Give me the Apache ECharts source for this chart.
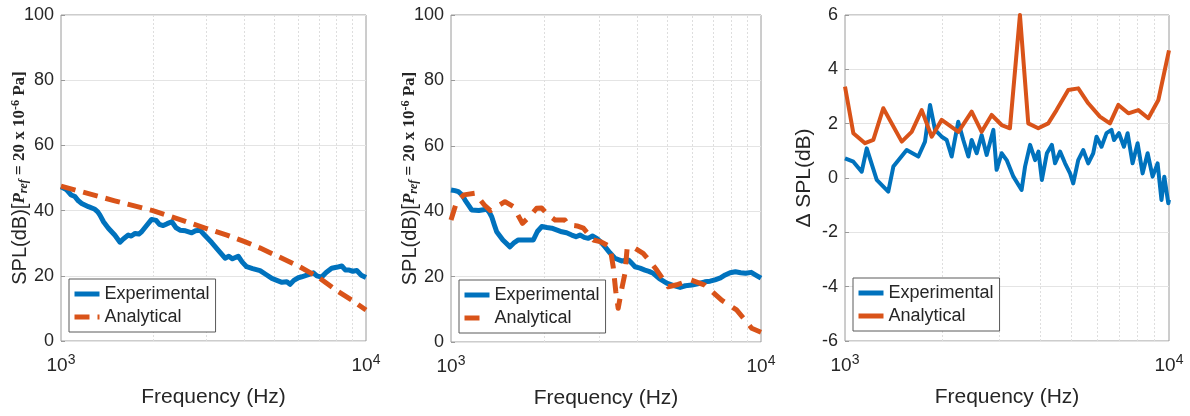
<!DOCTYPE html>
<html>
<head>
<meta charset="utf-8">
<script src="https://cdn.jsdelivr.net/npm/echarts@6/dist/echarts.min.js"></script>
<style>
html,body{margin:0;padding:0;background:#fff;}
#chart{width:1190px;height:416px;}
</style>
</head>
<body>
<div id="chart"></div>
<script>
// ---------- data ----------
const xTickLabels = ['10^3', '10^4'];
const minorFreqs = [2000, 3000, 4000, 5000, 6000, 7000, 8000, 9000];
const legendNames = ['Experimental', 'Analytical'];

// Panel 1
const freq1Exp = [1000,1040,1080,1111,1140,1169,1230,1292,1320,1342,1380,1430,1500,1561,1600,1662,1700,1750,1800,1838,1900,1982,2050,2100,2163,2230,2307,2380,2456,2560,2683,2760,2857,2950,3020,3120,3280,3451,3550,3650,3812,3930,4061,4250,4494,4700,4914,5100,5300,5500,5638,5800,6000,6157,6400,6724,6900,7148,7400,7716,8000,8330,8550,8760,9050,9330,9650,10000];
const spl1Exp = [47.3,46.5,44.8,44.3,43.0,42.2,41.2,40.4,39.6,38.6,36.5,34.6,32.5,30.3,31.3,32.5,32.2,33.0,32.8,33.5,35.2,37.3,37.0,35.8,35.4,36.0,36.6,34.8,34.0,33.8,33.2,33.8,34.0,32.6,31.6,30.2,27.8,25.4,26.0,25.2,26.0,24.2,22.8,22.2,21.6,20.4,19.2,18.6,18.0,18.2,17.4,18.6,19.4,19.7,20.2,20.9,20.0,19.6,21.0,22.3,22.6,23.0,21.8,21.8,21.4,21.6,20.2,19.5];
const freq1Ana = [1000,1500,2000,2500,3000,3500,4000,4500,5000,6000,7000,8000,9000,10000];
const spl1Ana = [47.5,43.0,40.0,37.0,34.5,32.5,30.5,28.5,26.5,23.0,19.5,15.5,12.5,9.5];

// Panel 2
const freq2Exp = [1000,1030,1056,1085,1110,1140,1166,1230,1303,1330,1353,1380,1404,1470,1550,1600,1649,1750,1843,1900,1962,2040,2113,2200,2277,2360,2451,2530,2606,2690,2773,2860,2951,3040,3140,3260,3378,3550,3732,3820,3923,4070,4223,4350,4491,4700,4964,5200,5483,5700,5985,6300,6590,6850,7106,7400,7666,7950,8270,8600,8921,9300,9650,10000];
const spl2Exp = [46.5,46.3,46.0,45.0,43.4,41.8,40.4,40.2,40.6,39.6,38.3,35.8,33.7,31.2,29.1,30.4,31.2,31.2,31.2,33.8,35.3,35.0,34.8,34.2,33.7,33.4,32.7,32.2,32.7,32.0,31.7,32.4,31.7,30.6,29.1,27.2,25.6,24.8,25.1,24.2,23.0,22.6,22.0,21.6,21.0,19.4,18.0,17.3,16.7,17.2,17.4,17.9,18.4,18.6,19.0,19.6,20.5,21.2,21.5,21.2,21.0,21.3,20.4,19.5];
const freq2Ana = [1000,1043,1100,1195,1281,1340,1404,1493,1588,1700,1800,1889,1960,2050,2166,2332,2390,2550,2673,2880,3050,3258,3336,3400,3462,3549,3640,3700,3870,4167,4400,4610,5022,5400,5918,6590,7000,7465,8340,8800,9330,10000];
const spl2Ana = [37.3,42.9,45.0,45.5,41.9,40.2,41.4,42.9,41.4,36.3,38.5,40.9,41.0,39.0,37.3,37.3,35.8,35.5,34.8,31.2,30.6,29.1,23.0,15.5,10.3,15.9,21.0,28.7,29.0,27.1,24.5,22.0,16.9,17.6,19.0,17.4,15.2,12.8,9.8,7.2,4.2,3.0];

// Panel 3
const freq3Exp = [1000,1061,1126,1167,1253,1360,1410,1550,1684,1766,1830,1896,1988,2060,2134,2236,2318,2403,2460,2550,2641,2737,2870,2937,3044,3155,3310,3508,3595,3726,3862,3954,4052,4198,4350,4450,4612,4778,4950,5063,5246,5435,5632,5835,5975,6190,6414,6645,6765,7008,7259,7450,7720,8000,8290,8590,8900,9220,9480,9670,9950,10000];
const dspl3Exp = [0.72,0.60,0.23,1.09,-0.07,-0.50,0.42,1.03,0.79,1.34,2.69,1.77,1.52,1.40,0.79,2.07,1.40,0.79,1.40,0.91,1.58,0.85,1.77,0.30,0.91,0.66,0.05,-0.44,0.42,1.22,0.66,0.97,-0.07,0.91,1.22,0.54,0.97,0.54,0.17,-0.20,0.66,1.03,0.54,0.91,1.52,1.15,1.65,1.77,1.40,1.65,1.15,1.65,0.54,1.28,0.17,0.91,0.05,0.54,-0.81,0.05,-0.93,-0.80];
const freq3Ana = [1000,1061,1153,1223,1313,1497,1606,1725,1852,1988,2239,2460,2641,2835,3044,3229,3467,3678,3949,4239,4497,4887,5248,5633,6120,6571,6978,7492,8041,8634,9272,10000];
const dspl3Ana = [3.36,1.65,1.28,1.40,2.57,1.34,1.70,2.50,1.52,2.14,1.70,2.44,1.70,2.32,1.95,1.83,6.00,2.01,1.83,2.01,2.50,3.24,3.30,2.75,2.26,2.01,2.69,2.38,2.50,2.20,2.87,4.70];

// ---------- helpers ----------
const zip = (a, b) => a.slice(0, Math.min(a.length, b.length)).map((v, i) => [v, b[i]]);
const BLUE = '#0072BD', ORANGE = '#D95319', TXT = '#262626';
const SANS = '"Liberation Sans", Arial, sans-serif';
const SERIF = '"Liberation Serif", "Times New Roman", serif';

const grids = [
  {left: 61, top: 15, width: 305, height: 326},
  {left: 451, top: 15, width: 310, height: 327},
  {left: 845, top: 15, width: 324, height: 326}
].map(g => Object.assign({show: true, borderColor: '#9a9a9a', borderWidth: 1, backgroundColor: '#fff'}, g));

function xAxisFor(i) {
  return {
    type: 'log', logBase: 10, gridIndex: i, min: 1000, max: 10000,
    name: 'Frequency (Hz)', nameLocation: 'middle', nameGap: 46, nameMoveOverlap: false,
    nameTextStyle: {fontSize: 21, color: TXT, fontFamily: SANS},
    axisLine: {show: false}, axisTick: {show: false},
    splitLine: {show: false},
    axisLabel: {
      margin: 12,
      formatter: v => {
        const e = Math.round(Math.log10(v));
        const lbl = xTickLabels.find(t => t.endsWith('^' + e)) || ('10^' + e);
        const parts = lbl.split('^');
        return '{b|' + parts[0] + '}{s|' + parts[1] + '}';
      },
      rich: {
        b: {fontSize: 19, color: TXT, fontFamily: SANS},
        s: {fontSize: 14, color: TXT, fontFamily: SANS, padding: [0, 0, 11, 0]}
      }
    }
  };
}

const splName = '{a|SPL(dB)[}{p|P}{sub|ref}{b| = 20 x 10}{sup|-6}{b| Pa]}';
const splRich = {
  a: {fontSize: 20, color: TXT, fontFamily: SANS},
  p: {fontSize: 17, color: TXT, fontFamily: SERIF, fontWeight: 'bold', fontStyle: 'italic'},
  sub: {fontSize: 12, color: TXT, fontFamily: SERIF, fontWeight: 'bold', fontStyle: 'italic', padding: [8, 0, 0, 0]},
  b: {fontSize: 17, color: TXT, fontFamily: SERIF, fontWeight: 'bold'},
  sup: {fontSize: 12, color: TXT, fontFamily: SERIF, fontWeight: 'bold', padding: [0, 0, 8, 0]}
};

function yAxisFor(i, min, max, interval, name, rich, gap) {
  return {
    type: 'value', gridIndex: i, min, max, interval,
    name, nameLocation: 'middle', nameGap: gap, nameRotate: 90, nameMoveOverlap: false,
    nameTextStyle: rich ? {rich} : {fontSize: 21, color: TXT, fontFamily: SANS},
    axisLine: {show: false},
    axisTick: {show: true, inside: true, length: 4, lineStyle: {color: '#9a9a9a'}},
    axisLabel: {fontSize: 18, color: TXT, fontFamily: SANS, margin: 7},
    splitLine: {show: true, lineStyle: {color: '#e4e4e4', width: 1}}
  };
}

function minorSeries(i) {
  return {
    type: 'line', xAxisIndex: i, yAxisIndex: i, data: [], z: 1, silent: true,
    markLine: {
      silent: true, z: 1, symbol: ['none', 'none'], label: {show: false},
      lineStyle: {color: '#dedede', type: [2, 2], width: 1},
      animation: false,
      data: minorFreqs.map(f => ({xAxis: f}))
    }
  };
}

function lineSeries(i, name, data, color, width, dash) {
  return {
    type: 'line', name, xAxisIndex: i, yAxisIndex: i, data, z: 3,
    showSymbol: false, symbol: 'none', smooth: false,
    lineStyle: {color, width, type: dash || 'solid', cap: 'butt', join: 'round'},
    itemStyle: {color},
    emphasis: {disabled: true}
  };
}

function legendFor(i, left, top, suffix) {
  return {
    orient: 'vertical', left, top, z: 10,
    data: legendNames.map(n => n + suffix),
    formatter: n => n.split('|')[0],
    itemWidth: 25, itemHeight: 14, itemGap: 3,
    padding: [5, 6, 5, 3],
    borderColor: '#5a5a5a', borderWidth: 1, backgroundColor: '#fff',
    textStyle: {fontSize: 18, color: TXT, fontFamily: SANS, lineHeight: 20},
    lineStyle: {width: 5},
    itemStyle: {color: 'rgba(0,0,0,0)', opacity: 0, borderWidth: 0},
    selectedMode: false
  };
}

const option = {
  animation: false,
  backgroundColor: '#fff',
  grid: grids,
  xAxis: [xAxisFor(0), xAxisFor(1), xAxisFor(2)],
  yAxis: [
    yAxisFor(0, 0, 100, 20, splName, splRich, 31),
    yAxisFor(1, 0, 100, 20, splName, splRich, 31),
    yAxisFor(2, -6, 6, 2, '\u0394 SPL(dB)', null, 30)
  ],
  legend: [
    legendFor(0, 69, 279, ''),
    legendFor(1, 459, 280, '|2'),
    legendFor(2, 853, 278, '|3')
  ],
  series: [
    minorSeries(0), minorSeries(1), minorSeries(2),
    lineSeries(0, 'Experimental', zip(freq1Exp, spl1Exp), BLUE, 5),
    lineSeries(0, 'Analytical', zip(freq1Ana, spl1Ana), ORANGE, 5, [15, 8]),
    lineSeries(1, 'Experimental|2', zip(freq2Exp, spl2Exp), BLUE, 5),
    lineSeries(1, 'Analytical|2', zip(freq2Ana, spl2Ana), ORANGE, 5, [15, 10]),
    lineSeries(2, 'Experimental|3', zip(freq3Exp, dspl3Exp), BLUE, 4),
    lineSeries(2, 'Analytical|3', zip(freq3Ana, dspl3Ana), ORANGE, 4)
  ]
};

const chart = echarts.init(document.getElementById('chart'), null, {renderer: 'canvas'});
chart.setOption(option);
</script>
</body>
</html>
